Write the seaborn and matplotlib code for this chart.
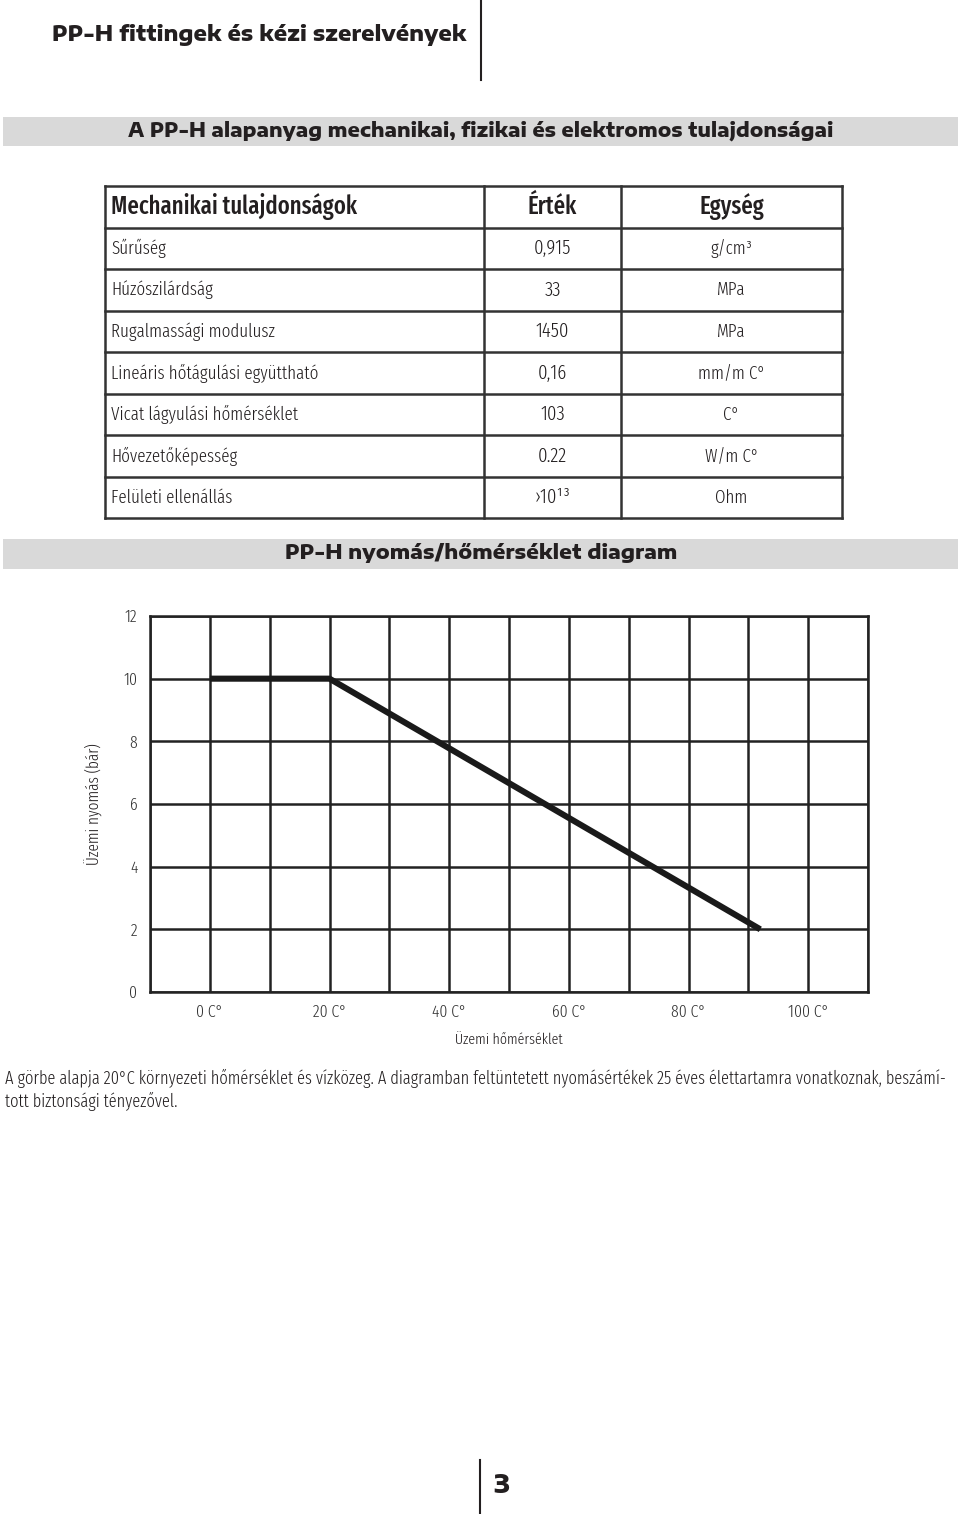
import matplotlib
matplotlib.use("Agg")
import matplotlib.pyplot as plt
from matplotlib.lines import Line2D
from matplotlib.patches import Rectangle
import seaborn as sns
import pandas as pd

# ---------------- data ----------------
header_title = "PP-H fittingek és kézi szerelvények"
bar1_title = "A PP-H alapanyag mechanikai, fizikai és elektromos tulajdonságai"
bar2_title = "PP-H nyomás/hőmérséklet diagram"

table_header = ["Mechanikai tulajdonságok", "Érték", "Egység"]
prop_names = ["Sűrűség", "Húzószilárdság", "Rugalmassági modulusz",
              "Lineáris hőtágulási együttható", "Vicat lágyulási hőmérséklet",
              "Hővezetőképesség", "Felületi ellenállás"]
prop_values = ["0,915", "33", "1450", "0,16", "103", "0.22", "›10¹³"]
prop_units = ["g/cm³", "MPa", "MPa", "mm/m C°", "C°", "W/m C°", "Ohm"]

temperature = [0, 20, 92]          # °C
pressure = [10, 10, 2]             # bar
x_tick_values = [0, 20, 40, 60, 80, 100]
x_tick_labels = ["0 C°", "20 C°", "40 C°", "60 C°", "80 C°", "100 C°"]
y_tick_values = [0, 2, 4, 6, 8, 10, 12]
x_label = "Üzemi hőmérséklet"
y_label = "Üzemi nyomás (bár)"

caption_1 = ("A görbe alapja 20°C környezeti hőmérséklet és vízközeg. A diagramban "
             "feltüntetett nyomásértékek 25 éves élettartamra vonatkoznak, beszámí-")
caption_2 = "tott biztonsági tényezővel."
page_number = "3"

# ---------------- style ----------------
sns.set_theme(style="white")
BODY = ["Fira Sans Extra Condensed", "DejaVu Sans"]
WIDE = ["Encode Sans Expanded", "DejaVu Sans"]
plt.rcParams["font.family"] = BODY
INK = "#231f20"
GRAY_BAR = "#d9d9d9"

W, H = 960, 1514
fig = plt.figure(figsize=(W / 100, H / 100), dpi=100)
fig.patch.set_facecolor("white")
renderer = fig.canvas.get_renderer()


def fx(x):
    return x / W


def fy(y):
    return 1 - y / H


def size_for(s, width, **kw):
    t = fig.text(0, 0, s, fontsize=12, **kw)
    w = t.get_window_extent(renderer).width
    t.remove()
    return 12 * width / w


def fit(s, x, y, width, ha="left", va="center", **kw):
    fs = size_for(s, width, **kw)
    return fig.text(fx(x), fy(y), s, ha=ha, va=va, fontsize=fs, **kw)


def hline(x0, x1, y, lw=1.8, color="#333333"):
    fig.add_artist(Line2D([fx(x0), fx(x1)], [fy(y), fy(y)], lw=lw, color=color,
                          transform=fig.transFigure, solid_capstyle="projecting"))


def vline(x, y0, y1, lw=1.8, color="#333333"):
    fig.add_artist(Line2D([fx(x), fx(x)], [fy(y0), fy(y1)], lw=lw, color=color,
                          transform=fig.transFigure, solid_capstyle="projecting"))


# header
fit(header_title, 52, 35, 415, family=WIDE, weight=800, color=INK)
vline(481, 0, 80, lw=1.5, color=INK)

# gray bar 1
fig.add_artist(Rectangle((fx(3), fy(146)), fx(958) - fx(3), fy(117) - fy(146),
                         transform=fig.transFigure, color=GRAY_BAR, lw=0))
fit(bar1_title, 128, 131, 705, family=WIDE, weight=800, color=INK)

# table
row_y = [186, 228, 269, 311, 352, 394, 435, 477, 518]
col_x = [105, 484, 621, 842]
for y in row_y:
    hline(col_x[0], col_x[-1], y)
for x in col_x:
    vline(x, row_y[0], row_y[-1])

hy = (row_y[0] + row_y[1]) / 2
hfs = size_for(table_header[0], 247, weight=500)
fig.text(fx(111), fy(hy), table_header[0], ha="left", va="center",
         weight=500, color=INK, fontsize=hfs)
fig.text(fx((col_x[1] + col_x[2]) / 2), fy(hy), table_header[1], ha="center", va="center",
         weight=500, color=INK, fontsize=hfs)
fig.text(fx((col_x[2] + col_x[3]) / 2), fy(hy), table_header[2], ha="center", va="center",
         weight=500, color=INK, fontsize=hfs)

bfs = size_for(prop_names[3], 207, weight=300)
for i, (n, v, u) in enumerate(zip(prop_names, prop_values, prop_units)):
    yc = (row_y[i + 1] + row_y[i + 2]) / 2
    fig.text(fx(111), fy(yc), n, ha="left", va="center", color=INK, fontsize=bfs, weight=300)
    fig.text(fx((col_x[1] + col_x[2]) / 2), fy(yc), v, ha="center", va="center",
             color=INK, fontsize=bfs * 1.1, weight=300)
    fig.text(fx((col_x[2] + col_x[3]) / 2), fy(yc), u, ha="center", va="center",
             color=INK, fontsize=bfs, weight=300)

# gray bar 2
fig.add_artist(Rectangle((fx(3), fy(569)), fx(958) - fx(3), fy(539) - fy(569),
                         transform=fig.transFigure, color=GRAY_BAR, lw=0))
fit(bar2_title, 285, 553, 392, family=WIDE, weight=800, color=INK)

# ---------------- chart ----------------
ax = fig.add_axes([fx(150), fy(992), fx(868) - fx(150), fy(616) - fy(992)])
df = pd.DataFrame({"temp": temperature, "pressure": pressure})
sns.lineplot(data=df, x="temp", y="pressure", ax=ax, color="#1a1a1a", lw=4.4,
             solid_capstyle="butt", zorder=5)
tfs = size_for("100 C°", 41, weight=300)
ax.set_xlim(-10, 110)
ax.set_ylim(0, 12)
ax.set_xticks(x_tick_values)
ax.set_xticklabels(x_tick_labels, fontsize=tfs, weight=300)
ax.set_xticks(list(range(-10, 111, 10)), minor=True)
ax.set_yticks(y_tick_values)
ax.set_yticklabels([str(v) for v in y_tick_values], fontsize=tfs, weight=300)
ax.grid(True, which="both", color="#222222", lw=1.8)
ax.tick_params(axis="both", which="both", length=0, colors="#333333")
ax.tick_params(axis="x", pad=9)
ax.tick_params(axis="y", pad=9)
for sp in ax.spines.values():
    sp.set_visible(True)
    sp.set_color("#222222")
    sp.set_linewidth(1.8)
ax.set_xlabel(x_label, fontsize=size_for(x_label, 108, weight=300), color=INK, weight=300)
ax.set_ylabel(y_label, fontsize=size_for(y_label, 122, weight=300), color=INK, weight=300)
ax.xaxis.set_label_coords(0.5, -0.108)
ax.yaxis.set_label_coords((103 - 150) / 718, 0.5)
ax.set_axisbelow(True)

# caption
cfs = size_for(caption_1, 941, weight=300)
fig.text(fx(5), fy(1078), caption_1, ha="left", va="center", color=INK, fontsize=cfs, weight=300)
fig.text(fx(5), fy(1101), caption_2, ha="left", va="center", color=INK, fontsize=cfs, weight=300)

# page number
vline(480, 1460, 1514, lw=1.5, color=INK)
fit(page_number, 493, 1486, 16, family=WIDE, weight=800, color=INK)

fig.savefig("out.png", dpi=100, facecolor="white")
